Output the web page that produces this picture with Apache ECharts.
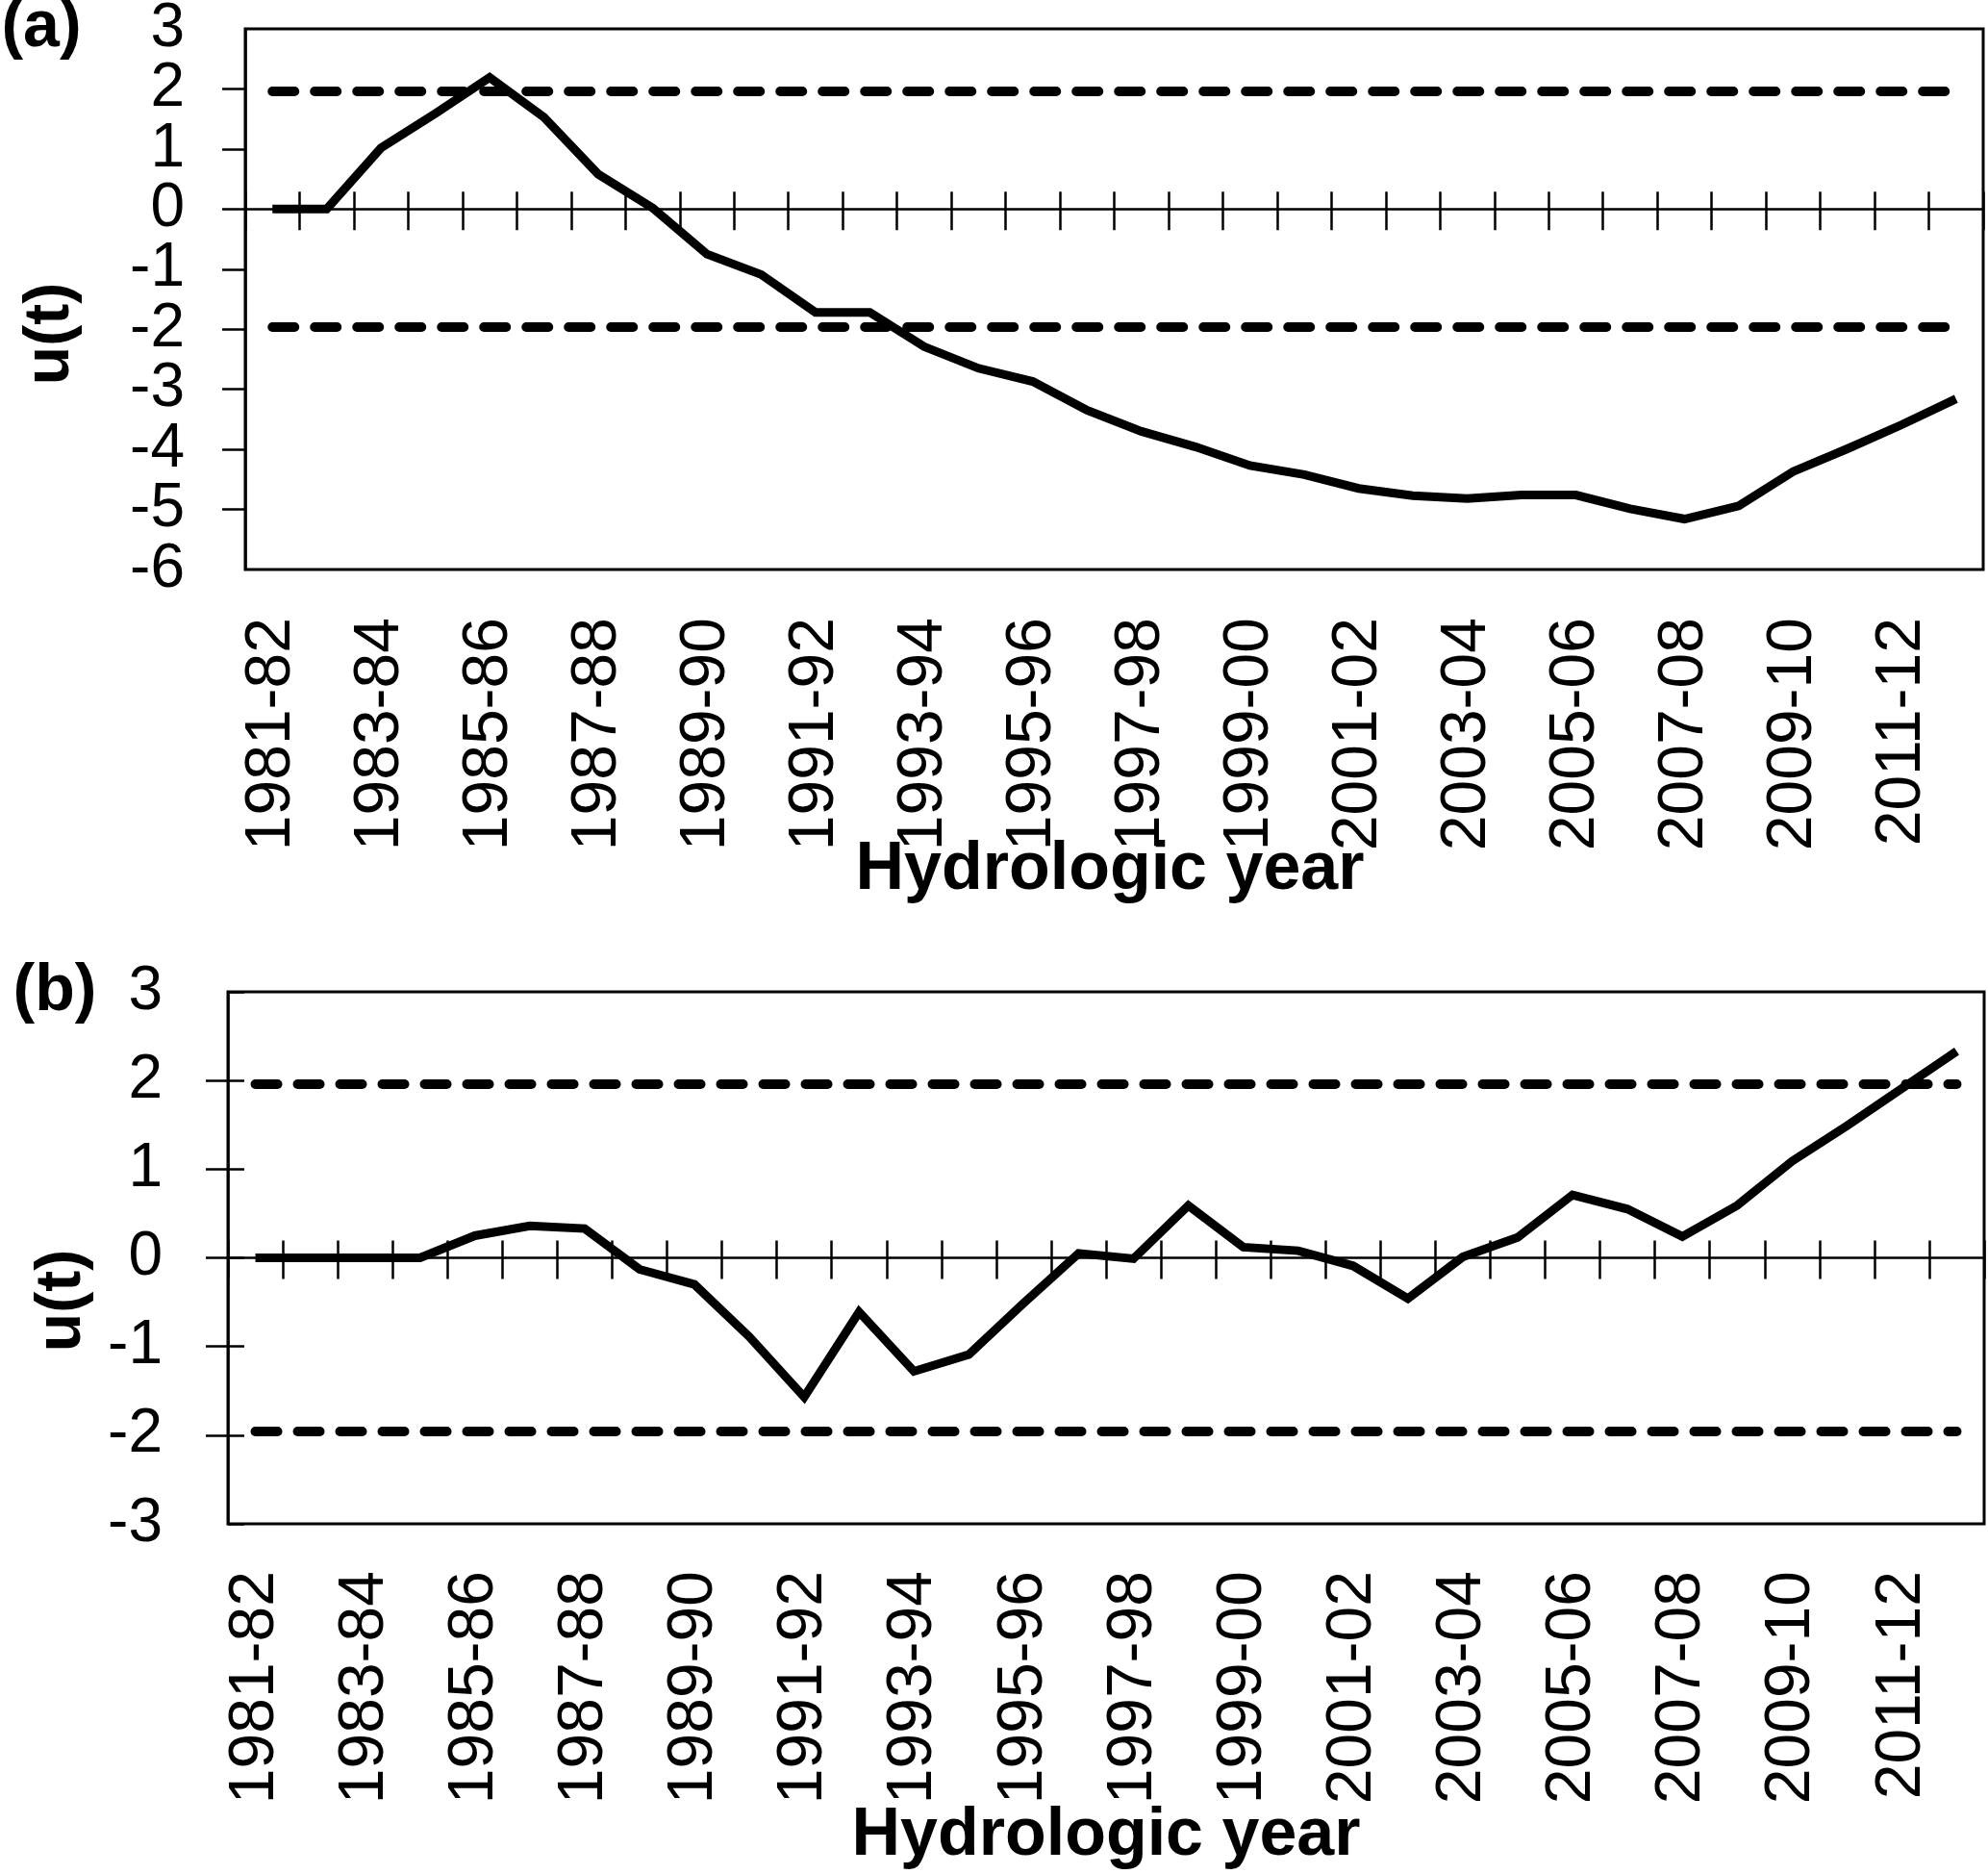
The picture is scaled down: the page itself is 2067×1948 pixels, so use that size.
<!DOCTYPE html>
<html>
<head>
<meta charset="utf-8">
<script src="https://cdn.jsdelivr.net/npm/echarts@6/dist/echarts.min.js"></script>
<style>
html,body{margin:0;padding:0;background:#fff;}
#c{width:2067px;height:1948px;}
</style>
</head>
<body>
<div id="c"></div>
<script>
// ---- data ----
const categories = ['1981-82','1982-83','1983-84','1984-85','1985-86','1986-87','1987-88','1988-89',
  '1989-90','1990-91','1991-92','1992-93','1993-94','1994-95','1995-96','1996-97','1997-98','1998-99',
  '1999-00','2000-01','2001-02','2002-03','2003-04','2004-05','2005-06','2006-07','2007-08','2008-09',
  '2009-10','2010-11','2011-12','2012-13'];
const seriesA = [0, 0, 1.02, 1.59, 2.19, 1.53, 0.58, 0.02, -0.75, -1.09, -1.72, -1.72, -2.29, -2.65,
  -2.87, -3.35, -3.70, -3.96, -4.27, -4.42, -4.65, -4.77, -4.82, -4.76, -4.76, -4.99, -5.16, -4.94,
  -4.37, -3.99, -3.59, -3.16];
const seriesB = [0, 0, 0, 0, 0.25, 0.36, 0.33, -0.13, -0.30, -0.89, -1.57, -0.61, -1.28, -1.09,
  -0.51, 0.05, -0.01, 0.59, 0.12, 0.08, -0.09, -0.46, 0.01, 0.23, 0.71, 0.55, 0.24, 0.59,
  1.09, 1.49, 1.91, 2.33];
const critical = 1.96;
const yRangeA = [-6, 3];
const yRangeB = [-3, 3];
const panelLabels = ['(a)', '(b)'];
const yTitle = 'u(t)';
const xTitle = 'Hydrologic year';

// ---- layout / style ----
const W = 2067;
const gridA = {left: 255, top: 30, right: 5, height: 562};
const gridB = {left: 237, top: 1031, right: 4, height: 553};
const FONT = '"Liberation Sans", Arial, sans-serif';
const AX = {color: '#000', width: 2.5};
const YLABEL = {fontSize: 64, fontFamily: FONT, color: '#000'};

function zeroPixelFromTop(g, range) {
  return g.height * range[1] / (range[1] - range[0]);
}
function labelAxis(g, margin) {
  return {
    gridIndex: g, type: 'category', data: categories, boundaryGap: true, position: 'bottom',
    axisLine: {show: false, onZero: false},
    axisTick: {show: false},
    axisLabel: {interval: 1, rotate: 90, fontSize: 66, fontFamily: FONT, color: '#000', margin: margin},
    splitLine: {show: false}
  };
}
function zeroAxis(g, yIdx) {
  return {
    gridIndex: g, type: 'category', data: categories, boundaryGap: true, position: 'bottom',
    axisLine: {show: true, onZero: true, onZeroAxisIndex: yIdx, lineStyle: AX},
    axisTick: {show: true, interval: 0, length: 22, lineStyle: AX},
    axisLabel: {show: false},
    splitLine: {show: false}
  };
}
function upTickAxis(g, geo, range) {
  // top-positioned axis moved down onto the zero line: its outward ticks point upward
  return {
    gridIndex: g, type: 'category', data: categories, boundaryGap: true, position: 'top',
    offset: -zeroPixelFromTop(geo, range),
    axisLine: {show: false, onZero: false},
    axisTick: {show: true, interval: 0, length: 18, lineStyle: AX},
    axisLabel: {show: false},
    splitLine: {show: false}
  };
}
function valueAxis(g, range, tickLen, margin) {
  // inner labels (min / max are drawn by the companion axis below)
  return {
    gridIndex: g, type: 'value', min: range[0], max: range[1], interval: 1, position: 'left',
    axisLine: {show: true, onZero: false, lineStyle: AX},
    axisTick: {show: true, length: tickLen, lineStyle: AX},
    axisLabel: Object.assign({show: true, showMinLabel: false, showMaxLabel: false, margin: margin}, YLABEL),
    splitLine: {show: false}
  };
}
function endLabelAxis(g, range, margin) {
  return {
    gridIndex: g, type: 'value', min: range[0], max: range[1], interval: 1, position: 'left', offset: 0,
    axisLine: {show: false, onZero: false},
    axisTick: {show: false},
    axisLabel: Object.assign({show: true, customValues: [range[0], range[1]],
      showMinLabel: true, showMaxLabel: true, margin: margin}, YLABEL),
    splitLine: {show: false}
  };
}
function rightTickAxis(g, geo, range, tickLen) {
  // right-positioned axis moved onto the left edge: its outward ticks point into the plot
  return {
    gridIndex: g, type: 'value', min: range[0], max: range[1], interval: 1, position: 'right',
    offset: -(W - geo.left - geo.right),
    axisLine: {show: false, onZero: false},
    axisTick: {show: true, length: tickLen, lineStyle: AX},
    axisLabel: {show: false},
    splitLine: {show: false}
  };
}
function critLines() {
  return {
    silent: true, symbol: ['none', 'none'], label: {show: false},
    lineStyle: {color: '#000', width: 10, type: [23, 21], cap: 'round'},
    emphasis: {disabled: true},
    data: [
      [{coord: [categories[0], critical]}, {coord: [categories[categories.length - 1], critical]}],
      [{coord: [categories[0], -critical]}, {coord: [categories[categories.length - 1], -critical]}]
    ]
  };
}
function mainLine(xi, yi, data) {
  return {
    type: 'line', xAxisIndex: xi, yAxisIndex: yi, data: data, symbol: 'none', silent: true,
    lineStyle: {color: '#000', width: 9, join: 'miter'}, z: 5,
    markLine: critLines()
  };
}
function text(x, y, str, size, rot) {
  return {
    type: 'text', x: x, y: y, rotation: rot || 0, silent: true,
    style: {text: str, font: 'bold ' + size + 'px ' + FONT, fill: '#000', align: 'center', verticalAlign: 'middle'}
  };
}
function gridOpt(geo) {
  return Object.assign({show: true, borderColor: '#000', borderWidth: 3, containLabel: false,
    outerBoundsMode: 'none'}, geo);
}

const chart = echarts.init(document.getElementById('c'), null, {renderer: 'canvas'});
chart.setOption({
  animation: false,
  backgroundColor: '#fff',
  grid: [gridOpt(gridA), gridOpt(gridB)],
  xAxis: [
    labelAxis(0, 50), zeroAxis(0, 0), upTickAxis(0, gridA, yRangeA),
    labelAxis(1, 49), zeroAxis(1, 2), upTickAxis(1, gridB, yRangeB)
  ],
  yAxis: [
    valueAxis(0, yRangeA, 24, 63),
    endLabelAxis(0, yRangeA, 63),
    valueAxis(1, yRangeB, 23, 68),
    endLabelAxis(1, yRangeB, 68),
    rightTickAxis(1, gridB, yRangeB, 17)
  ],
  series: [
    mainLine(0, 0, seriesA),
    mainLine(3, 2, seriesB)
  ],
  graphic: [
    text(43, 29, panelLabels[0], 68),
    text(53, 347, yTitle, 66, Math.PI / 2),
    text(1154, 905, xTitle, 70),
    text(57, 1031, panelLabels[1], 68),
    text(65, 1352, yTitle, 66, Math.PI / 2),
    text(1150, 1909, xTitle, 70)
  ]
});
</script>
</body>
</html>
